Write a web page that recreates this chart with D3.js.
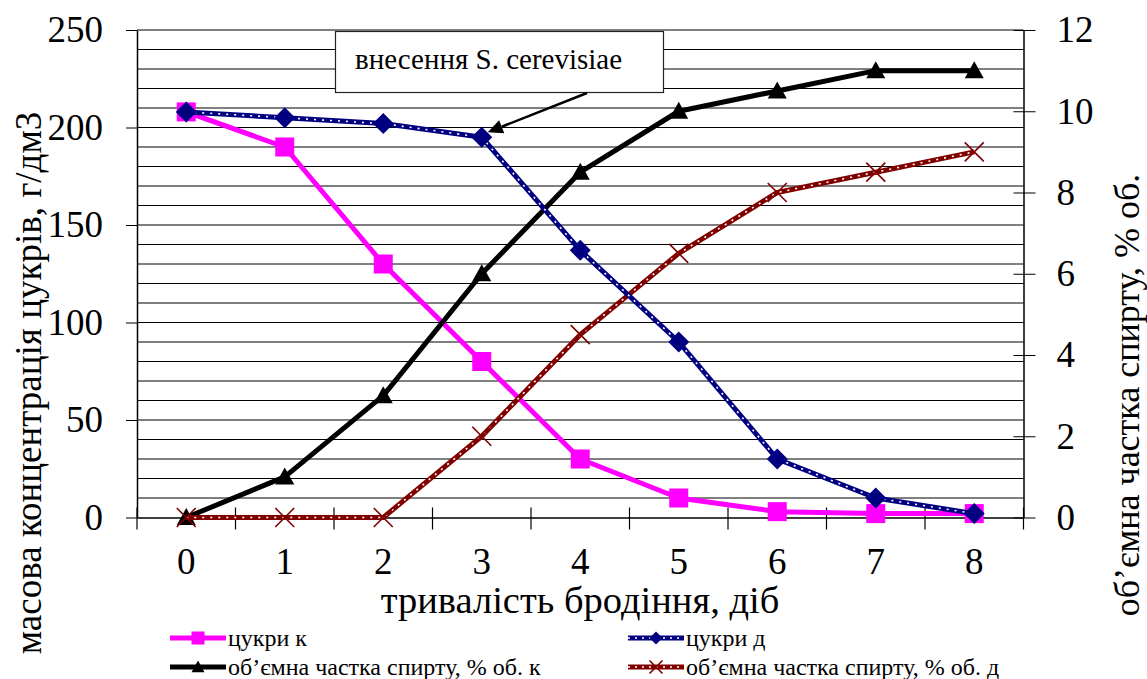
<!DOCTYPE html>
<html>
<head>
<meta charset="utf-8">
<script src="https://cdn.jsdelivr.net/npm/d3@7"></script>
<style>
  html, body { margin: 0; padding: 0; background: #fff; }
  svg { display: block; }
</style>
</head>
<body>
<svg id="chart" width="1147" height="679"></svg>
<script>
// Fermentation duration, days
const days = [0, 1, 2, 3, 4, 5, 6, 7, 8];

// Sugar concentration, g/dm3 (left axis)
const sugarK = [208, 190, 130, 80, 30, 10, 3, 2, 2];
const sugarD = [208, 205, 202, 195, 137, 90, 30, 10, 2];

// Alcohol volume fraction, % vol. (right axis)
const alcoholK = [0, 1, 3, 6, 8.5, 10, 10.5, 11, 11];
const alcoholD = [0, 0, 0, 2, 4.5, 6.5, 8, 8.5, 9];

// Tick labels
const leftTicks = [0, 50, 100, 150, 200, 250];
const rightTicks = [0, 2, 4, 6, 8, 10, 12];
const gridValues = d3.range(10, 251, 10);

const labels = {
  xTitle: "тривалість бродіння, діб",
  yLeftTitle: "масова концентрація цукрів, г/дм3",
  yRightTitle: "об’ємна частка спирту, % об.",
  note: "внесення S. cerevisiae",
  sugarK: "цукри к",
  sugarD: "цукри д",
  alcoholK: "об’ємна частка спирту, % об. к",
  alcoholD: "об’ємна частка спирту, % об. д"
};

const FONT = '"Liberation Serif"';
const svg = d3.select("#chart");
const plot = { left: 137, right: 1023.5, top: 30, bottom: 517.5 };

const x = d3.scaleBand().domain(days).range([plot.left, plot.right]).padding(0);
const cx = d => x(d) + x.bandwidth() / 2;
const yL = d3.scaleLinear().domain([0, 250]).range([plot.bottom, plot.top]);
const yR = d3.scaleLinear().domain([0, 12]).range([plot.bottom, plot.top]);

function serif(sel, size) {
  return sel.style("font-family", FONT).attr("font-size", size).attr("fill", "#000");
}

// Horizontal gridlines
svg.append("g").selectAll("line").data(gridValues).join("line")
  .attr("x1", plot.left).attr("x2", plot.right)
  .attr("y1", d => yL(d)).attr("y2", d => yL(d))
  .attr("stroke", "#000").attr("stroke-width", 1);

function styleAxis(g) {
  g.attr("font-family", null).attr("font-size", null);
  g.select(".domain").attr("stroke", "#000").attr("stroke-width", 1.5);
  serif(g.selectAll("text"), 37);
}

// Left axis
svg.append("g").attr("transform", `translate(${plot.left},0)`)
  .call(d3.axisLeft(yL).tickValues(leftTicks).tickSize(11).tickPadding(23).tickSizeOuter(0))
  .call(styleAxis);

// Right axis (ticks cross the axis line)
const gRight = svg.append("g").attr("transform", `translate(${plot.right},0)`)
  .call(d3.axisRight(yR).tickValues(rightTicks).tickSize(12).tickPadding(21).tickSizeOuter(0))
  .call(styleAxis);
gRight.selectAll(".tick line").attr("x1", -10);

// Bottom axis: labels at band centers, tick marks at band edges
const gBottom = svg.append("g").attr("transform", `translate(0,${plot.bottom})`)
  .call(d3.axisBottom(x).tickSize(0).tickPadding(30).tickSizeOuter(0))
  .call(styleAxis);
const edges = days.map(d => x(d)).concat([x(days[days.length - 1]) + x.bandwidth()]);
gBottom.append("g").selectAll("line").data(edges).join("line")
  .attr("x1", d => d).attr("x2", d => d)
  .attr("y1", -10).attr("y2", 12)
  .attr("stroke", "#000").attr("stroke-width", 1.2);

// Axis titles
serif(svg.append("text").attr("x", 580).attr("y", 613).attr("text-anchor", "middle"), 38.5)
  .text(labels.xTitle);
serif(svg.append("text").attr("transform", "translate(41,383) rotate(-90)")
  .attr("text-anchor", "middle"), 37).text(labels.yLeftTitle);
serif(svg.append("text").attr("transform", "translate(1139,395) rotate(-90)")
  .attr("text-anchor", "middle"), 36).text(labels.yRightTitle);

// Marker shapes
function marker(g, type, px, py, s) {
  if (type === "square") {
    g.append("rect").attr("x", px - s / 2).attr("y", py - s / 2)
      .attr("width", s).attr("height", s).attr("fill", "#ff00ff");
  } else if (type === "diamond") {
    const h = s / 2;
    g.append("path").attr("d", `M${px},${py - h}L${px + h},${py}L${px},${py + h}L${px - h},${py}Z`)
      .attr("fill", "#000080");
  } else if (type === "triangle") {
    const h = s / 2;
    g.append("path").attr("d", `M${px},${py - h}L${px + h},${py + h * 0.8}L${px - h},${py + h * 0.8}Z`)
      .attr("fill", "#000");
  } else if (type === "cross") {
    const h = s / 2;
    g.append("path").attr("d", `M${px - h},${py - h}L${px + h},${py + h}M${px - h},${py + h}L${px + h},${py - h}`)
      .attr("stroke", "#800000").attr("stroke-width", 1.6).attr("fill", "none");
  }
}

const series = [
  { name: labels.sugarK, values: sugarK, y: yL, color: "#ff00ff", type: "square", dotted: false, size: 19 },
  { name: labels.alcoholK, values: alcoholK, y: yR, color: "#000", type: "triangle", dotted: false, size: 19 },
  { name: labels.alcoholD, values: alcoholD, y: yR, color: "#800000", type: "cross", dotted: true, size: 19 },
  { name: labels.sugarD, values: sugarD, y: yL, color: "#000080", type: "diamond", dotted: true, size: 21 }
];

const lineFor = s => d3.line().x((v, i) => cx(days[i])).y(v => s.y(v));

const gSeries = svg.append("g");
series.forEach(s => {
  const g = gSeries.append("g");
  g.append("path").datum(s.values).attr("d", lineFor(s))
    .attr("fill", "none").attr("stroke", s.color).attr("stroke-width", 5)
    .attr("stroke-linejoin", "round");
  if (s.dotted) {
    g.append("path").datum(s.values).attr("d", lineFor(s))
      .attr("fill", "none").attr("stroke", "#fff").attr("stroke-width", 1.6)
      .attr("stroke-dasharray", "2,6");
  }
  s.values.forEach((v, i) => marker(g, s.type, cx(days[i]), s.y(v), s.size));
});

// Annotation box with arrow
const note = svg.append("g");
note.append("rect").attr("x", 335.5).attr("y", 31.5).attr("width", 328).attr("height", 61)
  .attr("fill", "#fff").attr("stroke", "#222").attr("stroke-width", 1.2);
serif(note.append("text").attr("x", 355).attr("y", 69), 29).text(labels.note);
const target = { x: cx(3) + 6, y: yL(sugarD[3]) - 5 };
const start = { x: 587, y: 93 };
const ang = Math.atan2(target.y - start.y, target.x - start.x);
const headLen = 15, headW = 7;
const bx = target.x - headLen * Math.cos(ang), by = target.y - headLen * Math.sin(ang);
note.append("line").attr("x1", start.x).attr("y1", start.y).attr("x2", bx).attr("y2", by)
  .attr("stroke", "#000").attr("stroke-width", 2.5);
note.append("path")
  .attr("d", `M${target.x},${target.y}L${bx + headW * Math.sin(ang)},${by - headW * Math.cos(ang)}L${bx - headW * Math.sin(ang)},${by + headW * Math.cos(ang)}Z`)
  .attr("fill", "#000");

// Legend
const legendItems = [
  { s: series[0], x: 170, y: 638 },
  { s: series[3], x: 628, y: 638 },
  { s: series[1], x: 170, y: 667 },
  { s: series[2], x: 628, y: 667 }
];
const gLegend = svg.append("g");
legendItems.forEach(it => {
  const g = gLegend.append("g");
  const w = 56;
  g.append("line").attr("x1", it.x).attr("x2", it.x + w).attr("y1", it.y).attr("y2", it.y)
    .attr("stroke", it.s.color).attr("stroke-width", 5);
  if (it.s.dotted) {
    g.append("line").attr("x1", it.x).attr("x2", it.x + w).attr("y1", it.y).attr("y2", it.y)
      .attr("stroke", "#fff").attr("stroke-width", 1.4).attr("stroke-dasharray", "2,5");
  }
  marker(g, it.s.type, it.x + w / 2, it.y, 13);
  serif(g.append("text").attr("x", it.x + w + 2).attr("y", it.y + 8), 24).text(it.s.name);
});
</script>
</body>
</html>
